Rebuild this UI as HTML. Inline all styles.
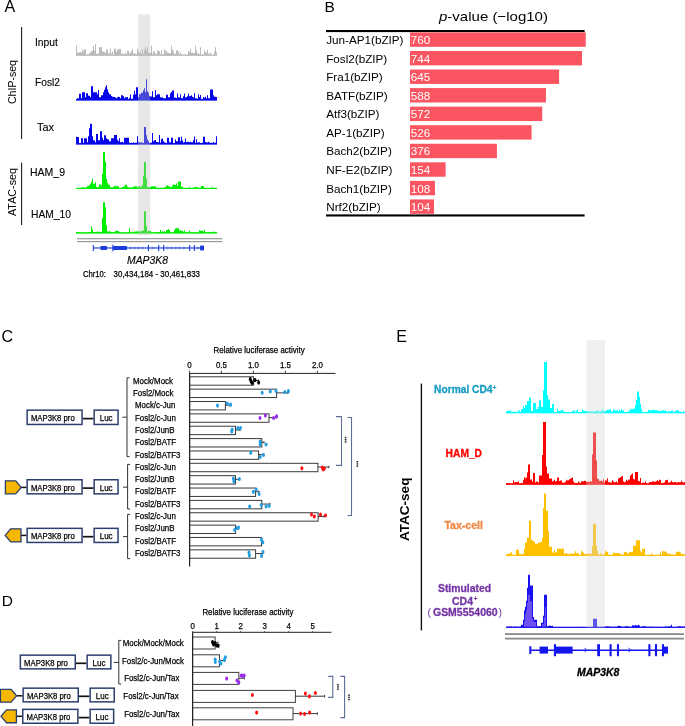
<!DOCTYPE html>
<html><head><meta charset="utf-8"><style>
html,body{margin:0;padding:0;background:#fff;}
body{width:685px;height:726px;overflow:hidden;}
svg{display:block;will-change:transform;font-family:"Liberation Sans",sans-serif;}
</style></head><body>
<svg width="685" height="726" viewBox="0 0 685 726">
<text x="4.5" y="11.9" font-size="16" fill="#000" font-weight="normal" font-style="normal" text-anchor="start" >A</text>
<line x1="21.6" y1="27" x2="21.6" y2="139" stroke="#222" stroke-width="1.1"/>
<line x1="21.6" y1="162.4" x2="21.6" y2="225" stroke="#222" stroke-width="1.1"/>
<text transform="translate(15.6,104) rotate(-90)" font-size="10.6" fill="#000" font-weight="normal" textLength="44" lengthAdjust="spacingAndGlyphs">ChIP-seq</text>
<text transform="translate(15.6,216) rotate(-90)" font-size="10.6" fill="#000" font-weight="normal" textLength="48" lengthAdjust="spacingAndGlyphs">ATAC-seq</text>
<text x="35" y="46.3" font-size="10.3" fill="#000" font-weight="normal" font-style="normal" text-anchor="start" textLength="23" lengthAdjust="spacingAndGlyphs" stroke="#000" stroke-width="0.12" >Input</text>
<text x="35" y="86" font-size="10.3" fill="#000" font-weight="normal" font-style="normal" text-anchor="start" textLength="25" lengthAdjust="spacingAndGlyphs" stroke="#000" stroke-width="0.12" >Fosl2</text>
<text x="37" y="131" font-size="10.3" fill="#000" font-weight="normal" font-style="normal" text-anchor="start" textLength="17" lengthAdjust="spacingAndGlyphs" stroke="#000" stroke-width="0.12" >Tax</text>
<text x="30" y="176.2" font-size="10.3" fill="#000" font-weight="normal" font-style="normal" text-anchor="start" textLength="35" lengthAdjust="spacingAndGlyphs" stroke="#000" stroke-width="0.12" >HAM_9</text>
<text x="31" y="218.2" font-size="10.3" fill="#000" font-weight="normal" font-style="normal" text-anchor="start" textLength="40" lengthAdjust="spacingAndGlyphs" stroke="#000" stroke-width="0.12" >HAM_10</text>
<path d="M76 55.6L76 45.6L77 45.6L77 52.84L78 52.84L78 52.61L79 52.61L79 52.23L80 52.23L80 51.83L81 51.83L81 52.7L82 52.7L82 49.25L83 49.25L83 51.2L84 51.2L84 49.3L85 49.3L85 49.3L86 49.3L86 54.7L87 54.7L87 54.69L88 54.69L88 54.74L89 54.74L89 52.93L90 52.93L90 52.77L91 52.77L91 50.66L92 50.66L92 50.96L93 50.96L93 46L94 46L94 50.6L95 50.6L95 44L96 44L96 54.1L97 54.1L97 54.1L98 54.1L98 53.34L99 53.34L99 47.2L100 47.2L100 47.2L101 47.2L101 47.2L102 47.2L102 51.6L103 51.6L103 51.6L104 51.6L104 51.92L105 51.92L105 52.72L106 52.72L106 49.3L107 49.3L107 49.97L108 49.97L108 53.6L109 53.6L109 53.08L110 53.08L110 48.8L111 48.8L111 53.77L112 53.77L112 51.63L113 51.63L113 54.38L114 54.38L114 48.73L115 48.73L115 48.6L116 48.6L116 51.68L117 51.68L117 50.21L118 50.21L118 49.1L119 49.1L119 49.1L120 49.1L120 49.1L121 49.1L121 53.6L122 53.6L122 53.83L123 53.83L123 53.97L124 53.97L124 53.74L125 53.74L125 52.71L126 52.71L126 54.4L127 54.4L127 50.67L128 50.67L128 51.05L129 51.05L129 53.46L130 53.46L130 52.44L131 52.44L131 51.29L132 51.29L132 49.3L133 49.3L133 53.74L134 53.74L134 52.98L135 52.98L135 54.02L136 54.02L136 54.23L137 54.23L137 48.8L138 48.8L138 51.6L139 51.6L139 52.88L140 52.88L140 51.6L141 51.6L141 53.91L142 53.91L142 49.44L143 49.44L143 53.59L144 53.59L144 49.95L145 49.95L145 47.2L146 47.2L146 50.6L147 50.6L147 47.2L148 47.2L148 52.8L149 52.8L149 52.85L150 52.85L150 52.73L151 52.73L151 45.8L152 45.8L152 54.17L153 54.17L153 51.6L154 51.6L154 51.6L155 51.6L155 53.58L156 53.58L156 54.08L157 54.08L157 50.12L158 50.12L158 51.3L159 51.3L159 51.3L160 51.3L160 54.09L161 54.09L161 49.91L162 49.91L162 54.42L163 54.42L163 54.17L164 54.17L164 49.1L165 49.1L165 51.6L166 51.6L166 50.6L167 50.6L167 52.63L168 52.63L168 53.03L169 53.03L169 52.96L170 52.96L170 53.28L171 53.28L171 45.8L172 45.8L172 49.78L173 49.78L173 51.6L174 51.6L174 53.88L175 53.88L175 53.85L176 53.85L176 50.4L177 50.4L177 50.37L178 50.37L178 51.52L179 51.52L179 54.11L180 54.11L180 52.26L181 52.26L181 54.44L182 54.44L182 54.67L183 54.67L183 54.74L184 54.74L184 54.8L185 54.8L185 54.62L186 54.62L186 54.96L187 54.96L187 54.66L188 54.66L188 50.98L189 50.98L189 52.12L190 52.12L190 48.65L191 48.65L191 52.79L192 52.79L192 52.86L193 52.86L193 53.13L194 53.13L194 52.97L195 52.97L195 45.8L196 45.8L196 50.6L197 50.6L197 53.06L198 53.06L198 53.81L199 53.81L199 54.09L200 54.09L200 47.25L201 47.25L201 54.5L202 54.5L202 54.24L203 54.24L203 54.56L204 54.56L204 50.13L205 50.13L205 52.07L206 52.07L206 52.46L207 52.46L207 49.59L208 49.59L208 53.6L209 53.6L209 54.11L210 54.11L210 52.6L211 52.6L211 54.7L212 54.7L212 54.91L213 54.91L213 54.81L214 54.81L214 51.52L215 51.52L215 47.2L216 47.2L216 52.6L217 52.6L217 55.6Z" fill="#bcbcbc"/>
<rect x="76" y="54.6" width="141" height="1.2" fill="#bcbcbc"/>
<path d="M76 100.3L76 99.3L77 99.3L77 98.3L78 98.3L78 98.3L79 98.3L79 93.8L80 93.8L80 93.8L81 93.8L81 98.3L82 98.3L82 92.2L83 92.2L83 92.2L84 92.2L84 92.2L85 92.2L85 97.3L86 97.3L86 93.3L87 93.3L87 93.3L88 93.3L88 95.8L89 95.8L89 95.8L90 95.8L90 97.3L91 97.3L91 86.3L92 86.3L92 86.3L93 86.3L93 92.2L94 92.2L94 92.2L95 92.2L95 92.2L96 92.2L96 92.2L97 92.2L97 94.3L98 94.3L98 90L99 90L99 97.3L100 97.3L100 97.3L101 97.3L101 95.3L102 95.3L102 95.3L103 95.3L103 92.3L104 92.3L104 89.8L105 89.8L105 87.3L106 87.3L106 85.3L107 85.3L107 89.3L108 89.3L108 92.3L109 92.3L109 94.3L110 94.3L110 94.3L111 94.3L111 96.1L112 96.1L112 96.68L113 96.68L113 96.63L114 96.63L114 97.09L115 97.09L115 97.39L116 97.39L116 98.35L117 98.35L117 97.13L118 97.13L118 96.79L119 96.79L119 96.98L120 96.98L120 98.3L121 98.3L121 95.31L122 95.31L122 95.27L123 95.27L123 96.21L124 96.21L124 98.3L125 98.3L125 97.3L126 97.3L126 97.3L127 97.3L127 97.12L128 97.12L128 99.3L129 99.3L129 97.94L130 97.94L130 94.54L131 94.54L131 98.8L132 98.8L132 98.8L133 98.8L133 94.8L134 94.8L134 90.8L135 90.8L135 94.3L136 94.3L136 87.3L137 87.3L137 87.3L138 87.3L138 97.3L139 97.3L139 94.3L140 94.3L140 94.3L141 94.3L141 92.8L142 92.8L142 92.8L143 92.8L143 90.3L144 90.3L144 88.3L145 88.3L145 92.3L146 92.3L146 79.3L147 79.3L147 91.3L148 91.3L148 92.8L149 92.8L149 96.3L150 96.3L150 96.3L151 96.3L151 96.42L152 96.42L152 91.28L153 91.28L153 97.3L154 97.3L154 97.3L155 97.3L155 90L156 90L156 95.3L157 95.3L157 94.3L158 94.3L158 94.3L159 94.3L159 94.3L160 94.3L160 97.17L161 97.17L161 97.43L162 97.43L162 97.29L163 97.29L163 98.16L164 98.16L164 98.3L165 98.3L165 98.3L166 98.3L166 94.8L167 94.8L167 94.8L168 94.8L168 97.3L169 97.3L169 97.3L170 97.3L170 93.3L171 93.3L171 91.95L172 91.95L172 90.6L173 90.6L173 90.6L174 90.6L174 97.85L175 97.85L175 97.6L176 97.6L176 98.06L177 98.06L177 93.6L178 93.6L178 97.29L179 97.29L179 97.45L180 97.45L180 94.3L181 94.3L181 98.3L182 98.3L182 98.3L183 98.3L183 96.28L184 96.28L184 93.41L185 93.41L185 97.62L186 97.62L186 97.12L187 97.12L187 96.26L188 96.26L188 93.69L189 93.69L189 96.29L190 96.29L190 95.9L191 95.9L191 95.21L192 95.21L192 96.64L193 96.64L193 97.48L194 97.48L194 93.3L195 93.3L195 98.32L196 98.32L196 98.37L197 98.37L197 98.7L198 98.7L198 94.3L199 94.3L199 97.3L200 97.3L200 94.98L201 94.98L201 98.86L202 98.86L202 98.96L203 98.96L203 97.03L204 97.03L204 97.8L205 97.8L205 96.72L206 96.72L206 98.36L207 98.36L207 95.3L208 95.3L208 98.3L209 98.3L209 98.3L210 98.3L210 89.5L211 89.5L211 89.5L212 89.5L212 89.5L213 89.5L213 95.3L214 95.3L214 96.65L215 96.65L215 96.85L216 96.85L216 97.05L217 97.05L217 100.3Z" fill="#0505e8"/>
<rect x="76" y="99.3" width="141" height="1.2" fill="#0505e8"/>
<path d="M76 144.3L76 136.65L77 136.65L77 137.1L78 137.1L78 137.1L79 137.1L79 143.3L80 143.3L80 143.3L81 143.3L81 138.3L82 138.3L82 138.3L83 138.3L83 142.8L84 142.8L84 138.3L85 138.3L85 138.3L86 138.3L86 138.3L87 138.3L87 142.3L88 142.3L88 136.3L89 136.3L89 128.3L90 128.3L90 123.8L91 123.8L91 123.8L92 123.8L92 136.3L93 136.3L93 140.3L94 140.3L94 140.3L95 140.3L95 142.3L96 142.3L96 134L97 134L97 134L98 134L98 140.3L99 140.3L99 140.3L100 140.3L100 131.3L101 131.3L101 131.3L102 131.3L102 137.87L103 137.87L103 140.3L104 140.3L104 135.3L105 135.3L105 135.3L106 135.3L106 138.3L107 138.3L107 139.3L108 139.3L108 139.3L109 139.3L109 141.3L110 141.3L110 141.3L111 141.3L111 138.3L112 138.3L112 138.3L113 138.3L113 138.3L114 138.3L114 135.1L115 135.1L115 135.1L116 135.1L116 135.1L117 135.1L117 139.71L118 139.71L118 141.3L119 141.3L119 138.3L120 138.3L120 142.36L121 142.36L121 141.93L122 141.93L122 141.82L123 141.82L123 142.8L124 142.8L124 137.8L125 137.8L125 137.8L126 137.8L126 137.8L127 137.8L127 137.8L128 137.8L128 137.8L129 137.8L129 142.87L130 142.87L130 142.91L131 142.91L131 142.77L132 142.77L132 143.06L133 143.06L133 142.34L134 142.34L134 143.09L135 143.09L135 142.8L136 142.8L136 142.8L137 142.8L137 136.3L138 136.3L138 142.3L139 142.3L139 141.9L140 141.9L140 142.65L141 142.65L141 142.55L142 142.55L142 142.44L143 142.44L143 142.88L144 142.88L144 127L145 127L145 127L146 127L146 135.34L147 135.34L147 139.49L148 139.49L148 141.3L149 141.3L149 143.07L150 143.07L150 142.84L151 142.84L151 142.76L152 142.76L152 133L153 133L153 141.3L154 141.3L154 140.35L155 140.35L155 140.12L156 140.12L156 142.01L157 142.01L157 142.3L158 142.3L158 142.3L159 142.3L159 135.1L160 135.1L160 142.66L161 142.66L161 138.98L162 138.98L162 138.38L163 138.38L163 141.22L164 141.22L164 142.31L165 142.31L165 142.65L166 142.65L166 143.07L167 143.07L167 137.8L168 137.8L168 137.8L169 137.8L169 142.3L170 142.3L170 142.3L171 142.3L171 137.8L172 137.8L172 137.8L173 137.8L173 143.2L174 143.2L174 142.95L175 142.95L175 139.48L176 139.48L176 141.3L177 141.3L177 141.3L178 141.3L178 137.3L179 137.3L179 137.3L180 137.3L180 141.18L181 141.18L181 136.75L182 136.75L182 140.62L183 140.62L183 142.49L184 142.49L184 141.92L185 141.92L185 138.42L186 138.42L186 142.03L187 142.03L187 142.09L188 142.09L188 141.76L189 141.76L189 142.28L190 142.28L190 141.77L191 141.77L191 142.3L192 142.3L192 142.3L193 142.3L193 140.3L194 140.3L194 136.62L195 136.62L195 142.76L196 142.76L196 139.2L197 139.2L197 142.58L198 142.58L198 142.36L199 142.36L199 142.3L200 142.3L200 143.08L201 143.08L201 143.06L202 143.06L202 142.67L203 142.67L203 136.8L204 136.8L204 136.8L205 136.8L205 141.91L206 141.91L206 142.26L207 142.26L207 142.55L208 142.55L208 141.72L209 141.72L209 142.55L210 142.55L210 142.82L211 142.82L211 142.86L212 142.86L212 142.89L213 142.89L213 142.02L214 142.02L214 142.8L215 142.8L215 142.8L216 142.8L216 136.36L217 136.36L217 144.3Z" fill="#0505e8"/>
<rect x="76" y="143.3" width="141" height="1.2" fill="#0505e8"/>
<path d="M76 188.8L76 188.2L77 188.2L77 188.05L78 188.05L78 188.18L79 188.18L79 188.06L80 188.06L80 188.06L81 188.06L81 187.56L82 187.56L82 187.26L83 187.26L83 187.41L84 187.41L84 187.46L85 187.46L85 187.73L86 187.73L86 187.54L87 187.54L87 186.02L88 186.02L88 185.77L89 185.77L89 185.21L90 185.21L90 183.8L91 183.8L91 181.8L92 181.8L92 178.8L93 178.8L93 183.8L94 183.8L94 183.8L95 183.8L95 182.3L96 182.3L96 186.8L97 186.8L97 187.36L98 187.36L98 186.92L99 186.92L99 184.18L100 184.18L100 184.8L101 184.8L101 185.5L102 185.5L102 173.8L103 173.8L103 152.1L104 152.1L104 152.1L105 152.1L105 162L106 162L106 178.8L107 178.8L107 182.8L108 182.8L108 184.8L109 184.8L109 184.8L110 184.8L110 187.29L111 187.29L111 187.53L112 187.53L112 187.24L113 187.24L113 187.29L114 187.29L114 185.83L115 185.83L115 185.72L116 185.72L116 186.63L117 186.63L117 185.87L118 185.87L118 186.38L119 186.38L119 188.05L120 188.05L120 187.97L121 187.97L121 187.89L122 187.89L122 187.05L123 187.05L123 186.66L124 186.66L124 186.36L125 186.36L125 184.8L126 184.8L126 184.8L127 184.8L127 186.79L128 186.79L128 187.24L129 187.24L129 187.62L130 187.62L130 187.39L131 187.39L131 187.41L132 187.41L132 187.75L133 187.75L133 186.18L134 186.18L134 186.84L135 186.84L135 186.18L136 186.18L136 186.24L137 186.24L137 187.8L138 187.8L138 186.26L139 186.26L139 186.3L140 186.3L140 186.7L141 186.7L141 186.66L142 186.66L142 184.8L143 184.8L143 175.8L144 175.8L144 162L145 162L145 162L146 162L146 178.8L147 178.8L147 187.16L148 187.16L148 186.74L149 186.74L149 187.38L150 187.38L150 186.93L151 186.93L151 186.21L152 186.21L152 186.34L153 186.34L153 186.43L154 186.43L154 186.2L155 186.2L155 186.59L156 186.59L156 187.81L157 187.81L157 187.94L158 187.94L158 187.78L159 187.78L159 188.08L160 188.08L160 187.95L161 187.95L161 187.9L162 187.9L162 187.82L163 187.82L163 187.95L164 187.95L164 187.3L165 187.3L165 187.3L166 187.3L166 185.7L167 185.7L167 185.37L168 185.37L168 186.01L169 186.01L169 186.26L170 186.26L170 187.3L171 187.3L171 187.3L172 187.3L172 185.6L173 185.6L173 184.29L174 184.29L174 184.9L175 184.9L175 185.04L176 185.04L176 183.3L177 183.3L177 185.8L178 185.8L178 181.5L179 181.5L179 181.5L180 181.5L180 181.5L181 181.5L181 186.8L182 186.8L182 186.8L183 186.8L183 188.27L184 188.27L184 188.35L185 188.35L185 188.33L186 188.33L186 188.33L187 188.33L187 188.33L188 188.33L188 188.2L189 188.2L189 186.8L190 186.8L190 188.17L191 188.17L191 188.21L192 188.21L192 188L193 188L193 187.19L194 187.19L194 187.52L195 187.52L195 187.11L196 187.11L196 187.11L197 187.11L197 187.13L198 187.13L198 187.83L199 187.83L199 187.95L200 187.95L200 188.02L201 188.02L201 185.92L202 185.92L202 186.04L203 186.04L203 185.96L204 185.96L204 188.04L205 188.04L205 187.97L206 187.97L206 187.86L207 187.86L207 187.97L208 187.97L208 187.89L209 187.89L209 187.93L210 187.93L210 187.84L211 187.84L211 188.2L212 188.2L212 186.8L213 186.8L213 187.98L214 187.98L214 187.93L215 187.93L215 187.81L216 187.81L216 187.99L217 187.99L217 188.8Z" fill="#00ee00"/>
<rect x="76" y="187.8" width="141" height="1.2" fill="#00ee00"/>
<path d="M76 233.3L76 232.09L77 232.09L77 232.01L78 232.01L78 232.09L79 232.09L79 232.13L80 232.13L80 232.41L81 232.41L81 232.34L82 232.34L82 232.47L83 232.47L83 232.52L84 232.52L84 232.41L85 232.41L85 232.42L86 232.42L86 232.56L87 232.56L87 231.97L88 231.97L88 232L89 232L89 232.17L90 232.17L90 231.88L91 231.88L91 226.1L92 226.1L92 229.3L93 229.3L93 232.33L94 232.33L94 232.48L95 232.48L95 232.3L96 232.3L96 232.25L97 232.25L97 231.62L98 231.62L98 231.78L99 231.78L99 231.87L100 231.87L100 231.96L101 231.96L101 231.87L102 231.87L102 218.3L103 218.3L103 202.3L104 202.3L104 202.3L105 202.3L105 207.3L106 207.3L106 225.3L107 225.3L107 231.2L108 231.2L108 231.86L109 231.86L109 231.26L110 231.26L110 231.41L111 231.41L111 232.33L112 232.33L112 232.57L113 232.57L113 232.37L114 232.37L114 232.53L115 232.53L115 230.96L116 230.96L116 230.86L117 230.86L117 230.92L118 230.92L118 231.08L119 231.08L119 232.29L120 232.29L120 232.52L121 232.52L121 232.55L122 232.55L122 232.3L123 232.3L123 232.58L124 232.58L124 232.45L125 232.45L125 232.45L126 232.45L126 232.29L127 232.29L127 232.47L128 232.47L128 232.4L129 232.4L129 228.3L130 228.3L130 232.42L131 232.42L131 232.43L132 232.43L132 232.43L133 232.43L133 232.44L134 232.44L134 231.48L135 231.48L135 231.6L136 231.6L136 231.6L137 231.6L137 231.25L138 231.25L138 231.22L139 231.22L139 231.73L140 231.73L140 231.24L141 231.24L141 231.17L142 231.17L142 230.85L143 230.85L143 230.26L144 230.26L144 211.3L145 211.3L145 211.3L146 211.3L146 226.3L147 226.3L147 231.4L148 231.4L148 230.96L149 230.96L149 230.68L150 230.68L150 231.01L151 231.01L151 232.44L152 232.44L152 232.59L153 232.59L153 232.44L154 232.44L154 232.44L155 232.44L155 232.32L156 232.32L156 232.46L157 232.46L157 231.83L158 231.83L158 232.04L159 232.04L159 231.92L160 231.92L160 229.8L161 229.8L161 232.3L162 232.3L162 231.37L163 231.37L163 231.78L164 231.78L164 231.23L165 231.23L165 232.3L166 232.3L166 230.04L167 230.04L167 230L168 230L168 229.35L169 229.35L169 229.88L170 229.88L170 232.42L171 232.42L171 232.53L172 232.53L172 232.52L173 232.52L173 232.33L174 232.33L174 230.3L175 230.3L175 228.48L176 228.48L176 228.18L177 228.18L177 228.11L178 228.11L178 228.14L179 228.14L179 230.86L180 230.86L180 230.29L181 230.29L181 230.73L182 230.73L182 231.02L183 231.02L183 231.8L184 231.8L184 230.3L185 230.3L185 232.3L186 232.3L186 232.28L187 232.28L187 232.56L188 232.56L188 232.29L189 232.29L189 230.8L190 230.8L190 232.36L191 232.36L191 232.51L192 232.51L192 232.4L193 232.4L193 232.28L194 232.28L194 232.55L195 232.55L195 232.37L196 232.37L196 232.52L197 232.52L197 232.55L198 232.55L198 232.27L199 232.27L199 230.36L200 230.36L200 230.7L201 230.7L201 230.56L202 230.56L202 230.95L203 230.95L203 231.8L204 231.8L204 229.8L205 229.8L205 232.45L206 232.45L206 232.38L207 232.38L207 232.32L208 232.32L208 232.35L209 232.35L209 232.44L210 232.44L210 232.38L211 232.38L211 232.04L212 232.04L212 231.82L213 231.82L213 231.79L214 231.79L214 231.84L215 231.84L215 232.3L216 232.3L216 232.3L217 232.3L217 233.3Z" fill="#00ee00"/>
<rect x="76" y="232.3" width="141" height="1.2" fill="#00ee00"/>
<rect x="138" y="14.4" width="12.2" height="220.8" fill="rgba(188,188,188,0.36)"/>
<rect x="77" y="238.1" width="145.4" height="1.2" fill="#9a9a9a"/>
<rect x="77" y="241" width="145.4" height="1.2" fill="#9a9a9a"/>
<rect x="93.3" y="247.4" width="110.7" height="1.15" fill="#1c3cdc"/>
<rect x="92.8" y="245" width="1.1" height="6" fill="#1c3cdc"/>
<rect x="100.6" y="246" width="6.3" height="4" fill="#1c3cdc"/>
<rect x="112.4" y="244.6" width="1.1" height="6.8" fill="#1c3cdc"/>
<rect x="112.9" y="246" width="14" height="4" fill="#1c3cdc"/>
<rect x="147.9" y="245" width="1.1" height="6" fill="#1c3cdc"/>
<rect x="158.1" y="245" width="1.1" height="6" fill="#1c3cdc"/>
<rect x="163.2" y="245" width="1.1" height="6" fill="#1c3cdc"/>
<rect x="189.1" y="245" width="1.1" height="6" fill="#1c3cdc"/>
<rect x="193.8" y="245" width="1.1" height="6" fill="#1c3cdc"/>
<path d="M130.2 246.6L131.4 248L130.2 249.4" fill="none" stroke="#1c3cdc" stroke-width="0.6"/>
<path d="M134.2 246.6L135.4 248L134.2 249.4" fill="none" stroke="#1c3cdc" stroke-width="0.6"/>
<path d="M138.2 246.6L139.4 248L138.2 249.4" fill="none" stroke="#1c3cdc" stroke-width="0.6"/>
<path d="M142.2 246.6L143.4 248L142.2 249.4" fill="none" stroke="#1c3cdc" stroke-width="0.6"/>
<path d="M152.2 246.6L153.4 248L152.2 249.4" fill="none" stroke="#1c3cdc" stroke-width="0.6"/>
<path d="M167.2 246.6L168.4 248L167.2 249.4" fill="none" stroke="#1c3cdc" stroke-width="0.6"/>
<path d="M171.2 246.6L172.4 248L171.2 249.4" fill="none" stroke="#1c3cdc" stroke-width="0.6"/>
<path d="M175.2 246.6L176.4 248L175.2 249.4" fill="none" stroke="#1c3cdc" stroke-width="0.6"/>
<path d="M179.2 246.6L180.4 248L179.2 249.4" fill="none" stroke="#1c3cdc" stroke-width="0.6"/>
<path d="M183.2 246.6L184.4 248L183.2 249.4" fill="none" stroke="#1c3cdc" stroke-width="0.6"/>
<path d="M197.2 246.6L198.4 248L197.2 249.4" fill="none" stroke="#1c3cdc" stroke-width="0.6"/>
<rect x="200.1" y="245.6" width="3.9" height="4.8" fill="#1c3cdc"/>
<text x="127" y="263.6" font-size="10.4" fill="#000" font-weight="normal" font-style="italic" text-anchor="start" textLength="41" lengthAdjust="spacingAndGlyphs" stroke="#000" stroke-width="0.12" >MAP3K8</text>
<text x="83" y="277.2" font-size="8.74" fill="#000" font-weight="normal" font-style="normal" text-anchor="start" textLength="23" lengthAdjust="spacingAndGlyphs" stroke="#000" stroke-width="0.25" >Chr10:</text>
<text x="113.6" y="277.2" font-size="8.85" fill="#000" font-weight="normal" font-style="normal" text-anchor="start" textLength="86.4" lengthAdjust="spacingAndGlyphs" stroke="#000" stroke-width="0.25" >30,434,184 - 30,461,833</text>
<text x="324.6" y="11.8" font-size="15.5" fill="#000" font-weight="normal" font-style="normal" text-anchor="start" >B</text>
<text x="439" y="21" font-size="13.6" fill="#000" textLength="109" lengthAdjust="spacingAndGlyphs"><tspan font-style="italic">p</tspan>-value (−log10)</text>
<rect x="326" y="30" width="258.6" height="2.1" fill="#000"/>
<rect x="326" y="214.4" width="258.6" height="2.1" fill="#000"/>
<rect x="410" y="32.4" width="175.71" height="14.4" fill="#fa5560"/>
<text x="326.2" y="44.1" font-size="11.7" fill="#000" font-weight="normal" font-style="normal" text-anchor="start" >Jun-AP1(bZIP)</text>
<text x="410.8" y="44.1" font-size="11.7" fill="#fff" font-weight="normal" font-style="normal" text-anchor="start" >760</text>
<rect x="410" y="50.96" width="172.01" height="14.4" fill="#fa5560"/>
<text x="326.2" y="62.66" font-size="11.7" fill="#000" font-weight="normal" font-style="normal" text-anchor="start" >Fosl2(bZIP)</text>
<text x="410.8" y="62.66" font-size="11.7" fill="#fff" font-weight="normal" font-style="normal" text-anchor="start" >744</text>
<rect x="410" y="69.52" width="149.12" height="14.4" fill="#fa5560"/>
<text x="326.2" y="81.22" font-size="11.7" fill="#000" font-weight="normal" font-style="normal" text-anchor="start" >Fra1(bZIP)</text>
<text x="410.8" y="81.22" font-size="11.7" fill="#fff" font-weight="normal" font-style="normal" text-anchor="start" >645</text>
<rect x="410" y="88.08" width="135.95" height="14.4" fill="#fa5560"/>
<text x="326.2" y="99.78" font-size="11.7" fill="#000" font-weight="normal" font-style="normal" text-anchor="start" >BATF(bZIP)</text>
<text x="410.8" y="99.78" font-size="11.7" fill="#fff" font-weight="normal" font-style="normal" text-anchor="start" >588</text>
<rect x="410" y="106.64" width="132.25" height="14.4" fill="#fa5560"/>
<text x="326.2" y="118.34" font-size="11.7" fill="#000" font-weight="normal" font-style="normal" text-anchor="start" >Atf3(bZIP)</text>
<text x="410.8" y="118.34" font-size="11.7" fill="#fff" font-weight="normal" font-style="normal" text-anchor="start" >572</text>
<rect x="410" y="125.2" width="121.61" height="14.4" fill="#fa5560"/>
<text x="326.2" y="136.9" font-size="11.7" fill="#000" font-weight="normal" font-style="normal" text-anchor="start" >AP-1(bZIP)</text>
<text x="410.8" y="136.9" font-size="11.7" fill="#fff" font-weight="normal" font-style="normal" text-anchor="start" >526</text>
<rect x="410" y="143.76" width="86.93" height="14.4" fill="#fa5560"/>
<text x="326.2" y="155.46" font-size="11.7" fill="#000" font-weight="normal" font-style="normal" text-anchor="start" >Bach2(bZIP)</text>
<text x="410.8" y="155.46" font-size="11.7" fill="#fff" font-weight="normal" font-style="normal" text-anchor="start" >376</text>
<rect x="410" y="162.32" width="35.6" height="14.4" fill="#fa5560"/>
<text x="326.2" y="174.02" font-size="11.7" fill="#000" font-weight="normal" font-style="normal" text-anchor="start" >NF-E2(bZIP)</text>
<text x="410.8" y="174.02" font-size="11.7" fill="#fff" font-weight="normal" font-style="normal" text-anchor="start" >154</text>
<rect x="410" y="180.88" width="24.97" height="14.4" fill="#fa5560"/>
<text x="326.2" y="192.58" font-size="11.7" fill="#000" font-weight="normal" font-style="normal" text-anchor="start" >Bach1(bZIP)</text>
<text x="410.8" y="192.58" font-size="11.7" fill="#fff" font-weight="normal" font-style="normal" text-anchor="start" >108</text>
<rect x="410" y="199.44" width="24.04" height="14.4" fill="#fa5560"/>
<text x="326.2" y="211.14" font-size="11.7" fill="#000" font-weight="normal" font-style="normal" text-anchor="start" >Nrf2(bZIP)</text>
<text x="410.8" y="211.14" font-size="11.7" fill="#fff" font-weight="normal" font-style="normal" text-anchor="start" >104</text>
<text x="1.5" y="341.9" font-size="16" fill="#000" font-weight="normal" font-style="normal" text-anchor="start" >C</text>
<line x1="82.8" y1="418.6" x2="93.4" y2="418.6" stroke="#111" stroke-width="1.7"/>
<rect x="27.15" y="410.15" width="54.9" height="14.3" fill="#fff" stroke="#2b3f6e" stroke-width="1.5"/>
<rect x="94.15" y="410.15" width="23.9" height="14.3" fill="#fff" stroke="#2b3f6e" stroke-width="1.5"/>
<text x="30.9" y="421.3" font-size="8.79" fill="#000" font-weight="normal" font-style="normal" text-anchor="start" textLength="43.8" lengthAdjust="spacingAndGlyphs" stroke="#000" stroke-width="0.25" >MAP3K8 pro</text>
<text x="99.7" y="421.3" font-size="8.96" fill="#000" font-weight="normal" font-style="normal" text-anchor="start" textLength="12.9" lengthAdjust="spacingAndGlyphs" stroke="#000" stroke-width="0.25" >Luc</text>
<line x1="82.8" y1="488.1" x2="93.4" y2="488.1" stroke="#111" stroke-width="1.7"/>
<rect x="27.15" y="479.75" width="54.9" height="14.1" fill="#fff" stroke="#2b3f6e" stroke-width="1.5"/>
<rect x="94.15" y="479.75" width="23.9" height="14.1" fill="#fff" stroke="#2b3f6e" stroke-width="1.5"/>
<text x="30.9" y="490.8" font-size="8.79" fill="#000" font-weight="normal" font-style="normal" text-anchor="start" textLength="43.8" lengthAdjust="spacingAndGlyphs" stroke="#000" stroke-width="0.25" >MAP3K8 pro</text>
<text x="99.7" y="490.8" font-size="8.96" fill="#000" font-weight="normal" font-style="normal" text-anchor="start" textLength="12.9" lengthAdjust="spacingAndGlyphs" stroke="#000" stroke-width="0.25" >Luc</text>
<line x1="21.2" y1="487.4" x2="26.4" y2="487.4" stroke="#111" stroke-width="1.5"/>
<polygon points="5.4,480.848 15.7,480.848 21.2,487.40000000000003 15.7,493.95200000000006 5.4,493.95200000000006" fill="#f5b700" stroke="#2b3f6e" stroke-width="1.3"/>
<line x1="82.8" y1="536.7" x2="93.4" y2="536.7" stroke="#111" stroke-width="1.7"/>
<rect x="27.15" y="528.35" width="54.9" height="14.1" fill="#fff" stroke="#2b3f6e" stroke-width="1.5"/>
<rect x="94.15" y="528.35" width="23.9" height="14.1" fill="#fff" stroke="#2b3f6e" stroke-width="1.5"/>
<text x="30.9" y="539.4" font-size="8.79" fill="#000" font-weight="normal" font-style="normal" text-anchor="start" textLength="43.8" lengthAdjust="spacingAndGlyphs" stroke="#000" stroke-width="0.25" >MAP3K8 pro</text>
<text x="99.7" y="539.4" font-size="8.96" fill="#000" font-weight="normal" font-style="normal" text-anchor="start" textLength="12.9" lengthAdjust="spacingAndGlyphs" stroke="#000" stroke-width="0.25" >Luc</text>
<line x1="21" y1="535.4" x2="26.4" y2="535.4" stroke="#111" stroke-width="1.5"/>
<polygon points="10.7,528.8480000000001 21,528.8480000000001 21,541.9520000000001 10.7,541.9520000000001 5.2,535.4000000000001" fill="#f5b700" stroke="#2b3f6e" stroke-width="1.3"/>
<path d="M129.5 377.8H127V456.6H129.5M127 417.2H122.4" fill="none" stroke="#333" stroke-width="1"/>
<path d="M130.1 464.4H127.6V509H130.1M127.6 487.2H123" fill="none" stroke="#333" stroke-width="1"/>
<path d="M130.1 514.4H127.6V558.6H130.1M127.6 536.6H123" fill="none" stroke="#333" stroke-width="1"/>
<text x="133" y="383.76" font-size="8.85" fill="#000" font-weight="normal" font-style="normal" text-anchor="start" textLength="39.94" lengthAdjust="spacingAndGlyphs" stroke="#000" stroke-width="0.25" >Mock/Mock</text>
<text x="133" y="396.06" font-size="8.85" fill="#000" font-weight="normal" font-style="normal" text-anchor="start" textLength="40.39" lengthAdjust="spacingAndGlyphs" stroke="#000" stroke-width="0.25" >Fosl2/Mock</text>
<text x="135" y="408.36" font-size="8.85" fill="#000" font-weight="normal" font-style="normal" text-anchor="start" textLength="40.39" lengthAdjust="spacingAndGlyphs" stroke="#000" stroke-width="0.25" >Mock/c-Jun</text>
<text x="135" y="420.66" font-size="8.85" fill="#000" font-weight="normal" font-style="normal" text-anchor="start" textLength="40.83" lengthAdjust="spacingAndGlyphs" stroke="#000" stroke-width="0.25" >Fosl2/c-Jun</text>
<text x="135" y="432.96" font-size="8.85" fill="#000" font-weight="normal" font-style="normal" text-anchor="start" textLength="39.52" lengthAdjust="spacingAndGlyphs" stroke="#000" stroke-width="0.25" >Fosl2/JunB</text>
<text x="135" y="445.26" font-size="8.85" fill="#000" font-weight="normal" font-style="normal" text-anchor="start" textLength="41.12" lengthAdjust="spacingAndGlyphs" stroke="#000" stroke-width="0.25" >Fosl2/BATF</text>
<text x="135" y="457.56" font-size="8.85" fill="#000" font-weight="normal" font-style="normal" text-anchor="start" textLength="45.51" lengthAdjust="spacingAndGlyphs" stroke="#000" stroke-width="0.25" >Fosl2/BATF3</text>
<text x="135" y="469.86" font-size="8.85" fill="#000" font-weight="normal" font-style="normal" text-anchor="start" textLength="40.83" lengthAdjust="spacingAndGlyphs" stroke="#000" stroke-width="0.25" >Fosl2/c-Jun</text>
<text x="135" y="482.16" font-size="8.85" fill="#000" font-weight="normal" font-style="normal" text-anchor="start" textLength="39.52" lengthAdjust="spacingAndGlyphs" stroke="#000" stroke-width="0.25" >Fosl2/JunB</text>
<text x="135" y="494.46" font-size="8.85" fill="#000" font-weight="normal" font-style="normal" text-anchor="start" textLength="41.12" lengthAdjust="spacingAndGlyphs" stroke="#000" stroke-width="0.25" >Fosl2/BATF</text>
<text x="135" y="506.76" font-size="8.85" fill="#000" font-weight="normal" font-style="normal" text-anchor="start" textLength="45.51" lengthAdjust="spacingAndGlyphs" stroke="#000" stroke-width="0.25" >Fosl2/BATF3</text>
<text x="135" y="519.06" font-size="8.85" fill="#000" font-weight="normal" font-style="normal" text-anchor="start" textLength="40.83" lengthAdjust="spacingAndGlyphs" stroke="#000" stroke-width="0.25" >Fosl2/c-Jun</text>
<text x="135" y="531.36" font-size="8.85" fill="#000" font-weight="normal" font-style="normal" text-anchor="start" textLength="39.52" lengthAdjust="spacingAndGlyphs" stroke="#000" stroke-width="0.25" >Fosl2/JunB</text>
<text x="135" y="543.66" font-size="8.85" fill="#000" font-weight="normal" font-style="normal" text-anchor="start" textLength="41.12" lengthAdjust="spacingAndGlyphs" stroke="#000" stroke-width="0.25" >Fosl2/BATF</text>
<text x="135" y="555.96" font-size="8.85" fill="#000" font-weight="normal" font-style="normal" text-anchor="start" textLength="45.51" lengthAdjust="spacingAndGlyphs" stroke="#000" stroke-width="0.25" >Fosl2/BATF3</text>
<rect x="189.6" y="376.79" width="64" height="8.4" fill="#fff" stroke="#3a3a3a" stroke-width="1"/>
<rect x="189.6" y="389.15" width="87" height="8.4" fill="#fff" stroke="#3a3a3a" stroke-width="1"/>
<rect x="189.6" y="401.51" width="35.8" height="8.4" fill="#fff" stroke="#3a3a3a" stroke-width="1"/>
<rect x="189.6" y="413.87" width="79.4" height="8.4" fill="#fff" stroke="#3a3a3a" stroke-width="1"/>
<rect x="189.6" y="426.23" width="45.9" height="8.4" fill="#fff" stroke="#3a3a3a" stroke-width="1"/>
<rect x="189.6" y="438.59" width="72.2" height="8.4" fill="#fff" stroke="#3a3a3a" stroke-width="1"/>
<rect x="189.6" y="450.95" width="69" height="8.4" fill="#fff" stroke="#3a3a3a" stroke-width="1"/>
<rect x="189.6" y="463.31" width="128.3" height="8.4" fill="#fff" stroke="#3a3a3a" stroke-width="1"/>
<rect x="189.6" y="475.67" width="45.9" height="8.4" fill="#fff" stroke="#3a3a3a" stroke-width="1"/>
<rect x="189.6" y="488.03" width="66" height="8.4" fill="#fff" stroke="#3a3a3a" stroke-width="1"/>
<rect x="189.6" y="500.39" width="72.2" height="8.4" fill="#fff" stroke="#3a3a3a" stroke-width="1"/>
<rect x="189.6" y="512.75" width="128.5" height="8.4" fill="#fff" stroke="#3a3a3a" stroke-width="1"/>
<rect x="189.6" y="525.11" width="46" height="8.4" fill="#fff" stroke="#3a3a3a" stroke-width="1"/>
<rect x="189.6" y="537.47" width="71.9" height="8.4" fill="#fff" stroke="#3a3a3a" stroke-width="1"/>
<rect x="189.6" y="549.83" width="66" height="8.4" fill="#fff" stroke="#3a3a3a" stroke-width="1"/>
<line x1="253.6" y1="380.49" x2="258.6" y2="380.49" stroke="#222" stroke-width="0.9"/>
<line x1="258.6" y1="379.29" x2="258.6" y2="381.69" stroke="#222" stroke-width="0.8"/>
<ellipse cx="250.3" cy="379.2" rx="1.5" ry="2.1" fill="#000"/>
<ellipse cx="251.2" cy="381.6" rx="1.5" ry="2.1" fill="#000"/>
<ellipse cx="252.2" cy="383" rx="1.5" ry="2.1" fill="#000"/>
<ellipse cx="255" cy="380.2" rx="1.5" ry="2.1" fill="#000"/>
<ellipse cx="258.6" cy="382.6" rx="1.5" ry="2.1" fill="#000"/>
<line x1="276.6" y1="392.85" x2="288" y2="392.85" stroke="#222" stroke-width="0.9"/>
<line x1="288" y1="391.65" x2="288" y2="394.05" stroke="#222" stroke-width="0.8"/>
<ellipse cx="262.2" cy="392.8" rx="1.5" ry="2.1" fill="#239ee2"/>
<ellipse cx="270.3" cy="391.4" rx="1.5" ry="2.1" fill="#239ee2"/>
<ellipse cx="276" cy="391" rx="1.5" ry="2.1" fill="#239ee2"/>
<ellipse cx="284.8" cy="392.2" rx="1.5" ry="2.1" fill="#239ee2"/>
<ellipse cx="288.4" cy="391.2" rx="1.5" ry="2.1" fill="#239ee2"/>
<line x1="225.4" y1="405.21" x2="230" y2="405.21" stroke="#222" stroke-width="0.9"/>
<line x1="230" y1="404.01" x2="230" y2="406.41" stroke="#222" stroke-width="0.8"/>
<ellipse cx="217.5" cy="405.6" rx="1.5" ry="2.1" fill="#239ee2"/>
<ellipse cx="227.3" cy="403.5" rx="1.5" ry="2.1" fill="#239ee2"/>
<ellipse cx="230.6" cy="404.7" rx="1.5" ry="2.1" fill="#239ee2"/>
<line x1="269" y1="417.57" x2="276" y2="417.57" stroke="#222" stroke-width="0.9"/>
<line x1="276" y1="416.37" x2="276" y2="418.77" stroke="#222" stroke-width="0.8"/>
<ellipse cx="260" cy="418" rx="1.5" ry="2.1" fill="#9c2cf0"/>
<ellipse cx="265.4" cy="415.6" rx="1.5" ry="2.1" fill="#9c2cf0"/>
<ellipse cx="273.6" cy="418" rx="1.5" ry="2.1" fill="#9c2cf0"/>
<ellipse cx="276.6" cy="416.4" rx="1.5" ry="2.1" fill="#9c2cf0"/>
<line x1="235.5" y1="429.93" x2="240" y2="429.93" stroke="#222" stroke-width="0.9"/>
<line x1="240" y1="428.73" x2="240" y2="431.13" stroke="#222" stroke-width="0.8"/>
<ellipse cx="231.7" cy="431.5" rx="1.5" ry="2.1" fill="#239ee2"/>
<ellipse cx="232.2" cy="429.5" rx="1.5" ry="2.1" fill="#239ee2"/>
<ellipse cx="237.8" cy="428.2" rx="1.5" ry="2.1" fill="#239ee2"/>
<ellipse cx="240.5" cy="428" rx="1.5" ry="2.1" fill="#239ee2"/>
<line x1="261.8" y1="442.29" x2="264" y2="442.29" stroke="#222" stroke-width="0.9"/>
<line x1="264" y1="441.09" x2="264" y2="443.49" stroke="#222" stroke-width="0.8"/>
<ellipse cx="260.2" cy="441.5" rx="1.5" ry="2.1" fill="#239ee2"/>
<ellipse cx="260.2" cy="444.5" rx="1.5" ry="2.1" fill="#239ee2"/>
<ellipse cx="266" cy="444.5" rx="1.5" ry="2.1" fill="#239ee2"/>
<line x1="258.6" y1="454.65" x2="263" y2="454.65" stroke="#222" stroke-width="0.9"/>
<line x1="263" y1="453.45" x2="263" y2="455.85" stroke="#222" stroke-width="0.8"/>
<ellipse cx="250.7" cy="452.8" rx="1.5" ry="2.1" fill="#239ee2"/>
<ellipse cx="260.2" cy="457" rx="1.5" ry="2.1" fill="#239ee2"/>
<ellipse cx="263.5" cy="455" rx="1.5" ry="2.1" fill="#239ee2"/>
<line x1="317.9" y1="467.01" x2="328.9" y2="467.01" stroke="#222" stroke-width="0.9"/>
<line x1="328.9" y1="465.81" x2="328.9" y2="468.21" stroke="#222" stroke-width="0.8"/>
<ellipse cx="301.9" cy="468.3" rx="1.5" ry="2.1" fill="#ff1010"/>
<ellipse cx="322.2" cy="467.5" rx="1.5" ry="2.1" fill="#ff1010"/>
<ellipse cx="323.2" cy="469.5" rx="1.5" ry="2.1" fill="#ff1010"/>
<ellipse cx="324.4" cy="468.6" rx="1.5" ry="2.1" fill="#ff1010"/>
<line x1="235.5" y1="479.37" x2="239" y2="479.37" stroke="#222" stroke-width="0.9"/>
<line x1="239" y1="478.17" x2="239" y2="480.57" stroke="#222" stroke-width="0.8"/>
<ellipse cx="233.4" cy="478.5" rx="1.5" ry="2.1" fill="#239ee2"/>
<ellipse cx="233.9" cy="481.5" rx="1.5" ry="2.1" fill="#239ee2"/>
<ellipse cx="239.4" cy="479" rx="1.5" ry="2.1" fill="#239ee2"/>
<line x1="255.6" y1="491.73" x2="259" y2="491.73" stroke="#222" stroke-width="0.9"/>
<line x1="259" y1="490.53" x2="259" y2="492.93" stroke="#222" stroke-width="0.8"/>
<ellipse cx="253.4" cy="491.8" rx="1.5" ry="2.1" fill="#239ee2"/>
<ellipse cx="256.2" cy="489.5" rx="1.5" ry="2.1" fill="#239ee2"/>
<ellipse cx="259.1" cy="494" rx="1.5" ry="2.1" fill="#239ee2"/>
<line x1="261.8" y1="504.09" x2="270" y2="504.09" stroke="#222" stroke-width="0.9"/>
<line x1="270" y1="502.89" x2="270" y2="505.29" stroke="#222" stroke-width="0.8"/>
<ellipse cx="249.7" cy="506.5" rx="1.5" ry="2.1" fill="#239ee2"/>
<ellipse cx="261.2" cy="505" rx="1.5" ry="2.1" fill="#239ee2"/>
<ellipse cx="266.1" cy="506.5" rx="1.5" ry="2.1" fill="#239ee2"/>
<ellipse cx="269.1" cy="506" rx="1.5" ry="2.1" fill="#239ee2"/>
<line x1="318.1" y1="516.45" x2="324" y2="516.45" stroke="#222" stroke-width="0.9"/>
<line x1="324" y1="515.25" x2="324" y2="517.65" stroke="#222" stroke-width="0.8"/>
<ellipse cx="311.5" cy="514.6" rx="1.5" ry="2.1" fill="#ff1010"/>
<ellipse cx="314.4" cy="516.5" rx="1.5" ry="2.1" fill="#ff1010"/>
<ellipse cx="320.5" cy="514.6" rx="1.5" ry="2.1" fill="#ff1010"/>
<ellipse cx="325.5" cy="515.5" rx="1.5" ry="2.1" fill="#ff1010"/>
<line x1="235.6" y1="528.81" x2="238" y2="528.81" stroke="#222" stroke-width="0.9"/>
<line x1="238" y1="527.61" x2="238" y2="530.01" stroke="#222" stroke-width="0.8"/>
<ellipse cx="234.6" cy="530" rx="1.5" ry="2.1" fill="#239ee2"/>
<ellipse cx="237.2" cy="528" rx="1.5" ry="2.1" fill="#239ee2"/>
<ellipse cx="238.5" cy="527.5" rx="1.5" ry="2.1" fill="#239ee2"/>
<line x1="261.5" y1="541.17" x2="262" y2="541.17" stroke="#222" stroke-width="0.9"/>
<line x1="262" y1="539.97" x2="262" y2="542.37" stroke="#222" stroke-width="0.8"/>
<ellipse cx="261.5" cy="539.6" rx="1.5" ry="2.1" fill="#239ee2"/>
<ellipse cx="262.8" cy="542.3" rx="1.5" ry="2.1" fill="#239ee2"/>
<line x1="255.6" y1="553.53" x2="262.5" y2="553.53" stroke="#222" stroke-width="0.9"/>
<line x1="262.5" y1="552.33" x2="262.5" y2="554.73" stroke="#222" stroke-width="0.8"/>
<ellipse cx="249" cy="552.5" rx="1.5" ry="2.1" fill="#239ee2"/>
<ellipse cx="249.4" cy="555.6" rx="1.5" ry="2.1" fill="#239ee2"/>
<ellipse cx="261.5" cy="556" rx="1.5" ry="2.1" fill="#239ee2"/>
<ellipse cx="263" cy="552" rx="1.5" ry="2.1" fill="#239ee2"/>
<text x="213.6" y="352.6" font-size="8.85" fill="#000" font-weight="normal" font-style="normal" text-anchor="start" textLength="91" lengthAdjust="spacingAndGlyphs" stroke="#000" stroke-width="0.25" >Relative luciferase activity</text>
<text x="189.4" y="367.6" font-size="8.85" fill="#000" font-weight="normal" font-style="normal" text-anchor="middle" textLength="4.39" lengthAdjust="spacingAndGlyphs" stroke="#000" stroke-width="0.25" >0</text>
<line x1="189.4" y1="370.6" x2="189.4" y2="373.4" stroke="#222" stroke-width="0.8"/>
<text x="221.4" y="367.6" font-size="8.85" fill="#000" font-weight="normal" font-style="normal" text-anchor="middle" textLength="10.98" lengthAdjust="spacingAndGlyphs" stroke="#000" stroke-width="0.25" >0.5</text>
<line x1="221.4" y1="370.6" x2="221.4" y2="373.4" stroke="#222" stroke-width="0.8"/>
<text x="253.4" y="367.6" font-size="8.85" fill="#000" font-weight="normal" font-style="normal" text-anchor="middle" textLength="10.98" lengthAdjust="spacingAndGlyphs" stroke="#000" stroke-width="0.25" >1.0</text>
<line x1="253.4" y1="370.6" x2="253.4" y2="373.4" stroke="#222" stroke-width="0.8"/>
<text x="285.4" y="367.6" font-size="8.85" fill="#000" font-weight="normal" font-style="normal" text-anchor="middle" textLength="10.98" lengthAdjust="spacingAndGlyphs" stroke="#000" stroke-width="0.25" >1.5</text>
<line x1="285.4" y1="370.6" x2="285.4" y2="373.4" stroke="#222" stroke-width="0.8"/>
<text x="317.4" y="367.6" font-size="8.85" fill="#000" font-weight="normal" font-style="normal" text-anchor="middle" textLength="10.98" lengthAdjust="spacingAndGlyphs" stroke="#000" stroke-width="0.25" >2.0</text>
<line x1="317.4" y1="370.6" x2="317.4" y2="373.4" stroke="#222" stroke-width="0.8"/>
<line x1="189.4" y1="373.4" x2="335.5" y2="373.4" stroke="#222" stroke-width="1"/>
<line x1="189.6" y1="373" x2="189.6" y2="566.4" stroke="#222" stroke-width="1.2"/>
<path d="M336 416.6H341.5V465.4H336" fill="none" stroke="#5e6f96" stroke-width="1.1"/>
<path d="M347.4 417.5H351.5V515.5H347.4" fill="none" stroke="#5e6f96" stroke-width="1.1"/>
<rect x="344.8" y="436.8" width="1.6" height="1.5" fill="#222"/>
<rect x="344.8" y="439" width="1.6" height="1.5" fill="#222"/>
<rect x="344.8" y="441.2" width="1.6" height="1.5" fill="#222"/>
<rect x="356.6" y="461" width="1.6" height="1.5" fill="#222"/>
<rect x="356.6" y="463.2" width="1.6" height="1.5" fill="#222"/>
<rect x="356.6" y="465.4" width="1.6" height="1.5" fill="#222"/>
<text x="1.8" y="605.6" font-size="15.5" fill="#000" font-weight="normal" font-style="normal" text-anchor="start" >D</text>
<line x1="76" y1="663.3" x2="86.4" y2="663.3" stroke="#111" stroke-width="1.7"/>
<rect x="20.35" y="655.15" width="54.9" height="13.7" fill="#fff" stroke="#2b3f6e" stroke-width="1.5"/>
<rect x="87.15" y="655.15" width="23.7" height="13.7" fill="#fff" stroke="#2b3f6e" stroke-width="1.5"/>
<text x="24.1" y="666" font-size="8.79" fill="#000" font-weight="normal" font-style="normal" text-anchor="start" textLength="43.8" lengthAdjust="spacingAndGlyphs" stroke="#000" stroke-width="0.25" >MAP3K8 pro</text>
<text x="92.6" y="666" font-size="8.96" fill="#000" font-weight="normal" font-style="normal" text-anchor="start" textLength="12.9" lengthAdjust="spacingAndGlyphs" stroke="#000" stroke-width="0.25" >Luc</text>
<line x1="79" y1="696.3" x2="89.4" y2="696.3" stroke="#111" stroke-width="1.7"/>
<rect x="23.15" y="688.15" width="55.1" height="13.7" fill="#fff" stroke="#2b3f6e" stroke-width="1.5"/>
<rect x="90.15" y="688.15" width="24.1" height="13.7" fill="#fff" stroke="#2b3f6e" stroke-width="1.5"/>
<text x="26.9" y="699" font-size="8.79" fill="#000" font-weight="normal" font-style="normal" text-anchor="start" textLength="43.8" lengthAdjust="spacingAndGlyphs" stroke="#000" stroke-width="0.25" >MAP3K8 pro</text>
<text x="95.8" y="699" font-size="8.96" fill="#000" font-weight="normal" font-style="normal" text-anchor="start" textLength="12.9" lengthAdjust="spacingAndGlyphs" stroke="#000" stroke-width="0.25" >Luc</text>
<line x1="16.6" y1="695.8" x2="22.4" y2="695.8" stroke="#111" stroke-width="1.5"/>
<polygon points="0.4,689.4159999999999 11.100000000000001,689.4159999999999 16.6,695.8 11.100000000000001,702.184 0.4,702.184" fill="#f5b700" stroke="#2b3f6e" stroke-width="1.3"/>
<line x1="78.6" y1="717.6" x2="89.4" y2="717.6" stroke="#111" stroke-width="1.7"/>
<rect x="22.75" y="709.35" width="55.1" height="13.9" fill="#fff" stroke="#2b3f6e" stroke-width="1.5"/>
<rect x="90.15" y="709.35" width="23.5" height="13.9" fill="#fff" stroke="#2b3f6e" stroke-width="1.5"/>
<text x="26.5" y="720.3" font-size="8.79" fill="#000" font-weight="normal" font-style="normal" text-anchor="start" textLength="43.8" lengthAdjust="spacingAndGlyphs" stroke="#000" stroke-width="0.25" >MAP3K8 pro</text>
<text x="95.5" y="720.3" font-size="8.96" fill="#000" font-weight="normal" font-style="normal" text-anchor="start" textLength="12.9" lengthAdjust="spacingAndGlyphs" stroke="#000" stroke-width="0.25" >Luc</text>
<line x1="16.4" y1="716.3" x2="22" y2="716.3" stroke="#111" stroke-width="1.5"/>
<polygon points="6.5,709.832 16.4,709.832 16.4,722.7679999999999 6.5,722.7679999999999 1.0,716.3" fill="#f5b700" stroke="#2b3f6e" stroke-width="1.3"/>
<path d="M121.3 640.4H118.8V684H121.3M118.8 662.4H113.6" fill="none" stroke="#333" stroke-width="1"/>
<text x="153.3" y="646" font-size="8.85" fill="#000" font-weight="normal" font-style="normal" text-anchor="middle" textLength="61.01" lengthAdjust="spacingAndGlyphs" stroke="#000" stroke-width="0.25" >Mock/Mock/Mock</text>
<text x="153" y="663.8" font-size="8.85" fill="#000" font-weight="normal" font-style="normal" text-anchor="middle" textLength="61.9" lengthAdjust="spacingAndGlyphs" stroke="#000" stroke-width="0.25" >Fosl2/c-Jun/Mock</text>
<text x="151.8" y="681.4" font-size="8.85" fill="#000" font-weight="normal" font-style="normal" text-anchor="middle" textLength="55.32" lengthAdjust="spacingAndGlyphs" stroke="#000" stroke-width="0.25" >Fosl2/c-Jun/Tax</text>
<text x="151" y="699.4" font-size="8.85" fill="#000" font-weight="normal" font-style="normal" text-anchor="middle" textLength="55.32" lengthAdjust="spacingAndGlyphs" stroke="#000" stroke-width="0.25" >Fosl2/c-Jun/Tax</text>
<text x="151.8" y="716.8" font-size="8.85" fill="#000" font-weight="normal" font-style="normal" text-anchor="middle" textLength="55.32" lengthAdjust="spacingAndGlyphs" stroke="#000" stroke-width="0.25" >Fosl2/c-Jun/Tax</text>
<rect x="192.6" y="637" width="22.5" height="12" fill="#fff" stroke="#404040" stroke-width="1"/>
<rect x="192.6" y="654.8" width="26.9" height="12" fill="#fff" stroke="#404040" stroke-width="1"/>
<rect x="192.6" y="672.4" width="46.2" height="12" fill="#fff" stroke="#404040" stroke-width="1"/>
<rect x="192.6" y="690.4" width="102.8" height="12" fill="#fff" stroke="#404040" stroke-width="1"/>
<rect x="192.6" y="707.8" width="100.4" height="12" fill="#fff" stroke="#404040" stroke-width="1"/>
<line x1="215.1" y1="642.8" x2="218" y2="642.8" stroke="#222" stroke-width="0.9"/>
<line x1="218" y1="641.5" x2="218" y2="644.1" stroke="#222" stroke-width="0.8"/>
<ellipse cx="212.5" cy="642" rx="1.5" ry="2.1" fill="#000"/>
<ellipse cx="213.5" cy="644.5" rx="1.5" ry="2.1" fill="#000"/>
<ellipse cx="215" cy="643" rx="1.5" ry="2.1" fill="#000"/>
<ellipse cx="216.5" cy="645.5" rx="1.5" ry="2.1" fill="#000"/>
<ellipse cx="218.2" cy="645.8" rx="1.5" ry="2.1" fill="#000"/>
<line x1="219.5" y1="660.6" x2="225" y2="660.6" stroke="#222" stroke-width="0.9"/>
<line x1="225" y1="659.3" x2="225" y2="661.9" stroke="#222" stroke-width="0.8"/>
<ellipse cx="215.1" cy="659.6" rx="1.5" ry="2.1" fill="#239ee2"/>
<ellipse cx="215.3" cy="662" rx="1.5" ry="2.1" fill="#239ee2"/>
<ellipse cx="219.7" cy="661.6" rx="1.5" ry="2.1" fill="#239ee2"/>
<ellipse cx="220.9" cy="663.5" rx="1.5" ry="2.1" fill="#239ee2"/>
<ellipse cx="224.3" cy="660" rx="1.5" ry="2.1" fill="#239ee2"/>
<ellipse cx="225.3" cy="657.3" rx="1.5" ry="2.1" fill="#239ee2"/>
<line x1="238.8" y1="678.2" x2="244.4" y2="678.2" stroke="#222" stroke-width="0.9"/>
<line x1="244.4" y1="676.9" x2="244.4" y2="679.5" stroke="#222" stroke-width="0.8"/>
<ellipse cx="226.6" cy="678.6" rx="1.5" ry="2.1" fill="#9c2cf0"/>
<ellipse cx="237" cy="680.5" rx="1.5" ry="2.1" fill="#9c2cf0"/>
<ellipse cx="238.8" cy="682.5" rx="1.5" ry="2.1" fill="#9c2cf0"/>
<ellipse cx="241.1" cy="675.5" rx="1.5" ry="2.1" fill="#9c2cf0"/>
<ellipse cx="242.5" cy="675.8" rx="1.5" ry="2.1" fill="#9c2cf0"/>
<ellipse cx="244.2" cy="675.5" rx="1.5" ry="2.1" fill="#9c2cf0"/>
<line x1="295.4" y1="696.2" x2="324.6" y2="696.2" stroke="#222" stroke-width="0.9"/>
<line x1="324.6" y1="694.9" x2="324.6" y2="697.5" stroke="#222" stroke-width="0.8"/>
<ellipse cx="252.4" cy="695" rx="1.5" ry="2.1" fill="#ff1010"/>
<ellipse cx="305.4" cy="693.6" rx="1.5" ry="2.1" fill="#ff1010"/>
<ellipse cx="309.4" cy="696.4" rx="1.5" ry="2.1" fill="#ff1010"/>
<ellipse cx="315.4" cy="693" rx="1.5" ry="2.1" fill="#ff1010"/>
<line x1="293" y1="713.6" x2="317.4" y2="713.6" stroke="#222" stroke-width="0.9"/>
<line x1="317.4" y1="712.3" x2="317.4" y2="714.9" stroke="#222" stroke-width="0.8"/>
<ellipse cx="256.6" cy="712.6" rx="1.5" ry="2.1" fill="#ff1010"/>
<ellipse cx="300.6" cy="713.6" rx="1.5" ry="2.1" fill="#ff1010"/>
<ellipse cx="304.6" cy="714" rx="1.5" ry="2.1" fill="#ff1010"/>
<ellipse cx="309.6" cy="712.6" rx="1.5" ry="2.1" fill="#ff1010"/>
<text x="202.4" y="615.4" font-size="8.85" fill="#000" font-weight="normal" font-style="normal" text-anchor="start" textLength="91" lengthAdjust="spacingAndGlyphs" stroke="#000" stroke-width="0.25" >Relative luciferase activity</text>
<text x="192.6" y="629.2" font-size="8.85" fill="#000" font-weight="normal" font-style="normal" text-anchor="middle" textLength="4.39" lengthAdjust="spacingAndGlyphs" stroke="#000" stroke-width="0.25" >0</text>
<line x1="192.6" y1="631" x2="192.6" y2="632.4" stroke="#222" stroke-width="0.7"/>
<text x="216.6" y="629.2" font-size="8.85" fill="#000" font-weight="normal" font-style="normal" text-anchor="middle" textLength="4.39" lengthAdjust="spacingAndGlyphs" stroke="#000" stroke-width="0.25" >1</text>
<line x1="216.6" y1="631" x2="216.6" y2="632.4" stroke="#222" stroke-width="0.7"/>
<text x="240.6" y="629.2" font-size="8.85" fill="#000" font-weight="normal" font-style="normal" text-anchor="middle" textLength="4.39" lengthAdjust="spacingAndGlyphs" stroke="#000" stroke-width="0.25" >2</text>
<line x1="240.6" y1="631" x2="240.6" y2="632.4" stroke="#222" stroke-width="0.7"/>
<text x="264.6" y="629.2" font-size="8.85" fill="#000" font-weight="normal" font-style="normal" text-anchor="middle" textLength="4.39" lengthAdjust="spacingAndGlyphs" stroke="#000" stroke-width="0.25" >3</text>
<line x1="264.6" y1="631" x2="264.6" y2="632.4" stroke="#222" stroke-width="0.7"/>
<text x="288.6" y="629.2" font-size="8.85" fill="#000" font-weight="normal" font-style="normal" text-anchor="middle" textLength="4.39" lengthAdjust="spacingAndGlyphs" stroke="#000" stroke-width="0.25" >4</text>
<line x1="288.6" y1="631" x2="288.6" y2="632.4" stroke="#222" stroke-width="0.7"/>
<text x="312.6" y="629.2" font-size="8.85" fill="#000" font-weight="normal" font-style="normal" text-anchor="middle" textLength="4.39" lengthAdjust="spacingAndGlyphs" stroke="#000" stroke-width="0.25" >5</text>
<line x1="312.6" y1="631" x2="312.6" y2="632.4" stroke="#222" stroke-width="0.7"/>
<line x1="192.6" y1="632.3" x2="331.4" y2="632.3" stroke="#222" stroke-width="1"/>
<line x1="192.6" y1="632.3" x2="192.6" y2="726" stroke="#222" stroke-width="1.2"/>
<path d="M328.2 676.4H332.8V697.4H328.2" fill="none" stroke="#5e6f96" stroke-width="1.1"/>
<path d="M340.4 676.4H344.6V717.6H340.4" fill="none" stroke="#5e6f96" stroke-width="1.1"/>
<rect x="337.2" y="684" width="1.6" height="1.5" fill="#222"/>
<rect x="337.2" y="686.2" width="1.6" height="1.5" fill="#222"/>
<rect x="337.2" y="688.4" width="1.6" height="1.5" fill="#222"/>
<rect x="348.2" y="694.4" width="1.6" height="1.5" fill="#222"/>
<rect x="348.2" y="696.6" width="1.6" height="1.5" fill="#222"/>
<rect x="348.2" y="698.8" width="1.6" height="1.5" fill="#222"/>
<text x="396.3" y="342.2" font-size="16" fill="#000" font-weight="normal" font-style="normal" text-anchor="start" >E</text>
<line x1="421.4" y1="383.6" x2="421.4" y2="630.4" stroke="#111" stroke-width="1.4"/>
<text transform="translate(408.5,541) rotate(-90)" font-size="13.5" fill="#000" font-weight="bold" textLength="63.4" lengthAdjust="spacingAndGlyphs">ATAC-seq</text>
<text x="434.1" y="392.8" font-size="10.5" font-weight="bold" fill="#179bc4" stroke="#179bc4" stroke-width="0.3" textLength="58.4" lengthAdjust="spacingAndGlyphs">Normal CD4</text>
<text x="492.6" y="389.6" font-size="7" font-weight="bold" fill="#179bc4">+</text>
<text x="445.6" y="457" font-size="10.4" fill="#ff0000" font-weight="bold" font-style="normal" text-anchor="start" textLength="36.4" lengthAdjust="spacingAndGlyphs" stroke="#ff0000" stroke-width="0.3" >HAM_D</text>
<text x="444.4" y="528.6" font-size="10.5" fill="#ef8845" font-weight="bold" font-style="normal" text-anchor="start" textLength="38.6" lengthAdjust="spacingAndGlyphs" stroke="#ef8845" stroke-width="0.3" >Tax-cell</text>
<text x="438" y="592.2" font-size="10.4" fill="#7434a6" font-weight="bold" font-style="normal" text-anchor="start" textLength="53" lengthAdjust="spacingAndGlyphs" stroke="#7434a6" stroke-width="0.3" >Stimulated</text>
<text x="452" y="604.6" font-size="10.6" font-weight="bold" fill="#7434a6" stroke="#7434a6" stroke-width="0.3" textLength="21" lengthAdjust="spacingAndGlyphs">CD4</text>
<text x="473.4" y="601.2" font-size="7" font-weight="bold" fill="#7434a6">+</text>
<text x="433" y="616.4" font-size="10.4" fill="#7434a6" font-weight="bold" font-style="normal" text-anchor="start" textLength="64.6" lengthAdjust="spacingAndGlyphs" stroke="#7434a6" stroke-width="0.3" >GSM5554060</text>
<text x="427.4" y="616.2" font-size="10.5" fill="#7434a6">(</text>
<text x="498.6" y="616.2" font-size="10.5" fill="#7434a6">)</text>
<path d="M506 413.1L506 411.18L507 411.18L507 410.97L508 410.97L508 410.93L509 410.93L509 410.53L510 410.53L510 410.78L511 410.78L511 411.76L512 411.76L512 411.82L513 411.82L513 411.68L514 411.68L514 411.54L515 411.54L515 411.94L516 411.94L516 411.71L517 411.71L517 411.81L518 411.81L518 410.79L519 410.79L519 410.41L520 410.41L520 412.61L521 412.61L521 409.1L522 409.1L522 409.1L523 409.1L523 405.88L524 405.88L524 408.1L525 408.1L525 405.1L526 405.1L526 405.1L527 405.1L527 401.1L528 401.1L528 401.1L529 401.1L529 397.4L530 397.4L530 397.4L531 397.4L531 411.1L532 411.1L532 411.1L533 411.1L533 403.1L534 403.1L534 403.1L535 403.1L535 403.1L536 403.1L536 409.1L537 409.1L537 409.1L538 409.1L538 407.1L539 407.1L539 400.3L540 400.3L540 400.3L541 400.3L541 407.1L542 407.1L542 407.1L543 407.1L543 390.3L544 390.3L544 362.1L545 362.1L545 362.1L546 362.1L546 362.1L547 362.1L547 395.1L548 395.1L548 399.6L549 399.6L549 399.6L550 399.6L550 408.1L551 408.1L551 408.1L552 408.1L552 404.1L553 404.1L553 404.1L554 404.1L554 412.06L555 412.06L555 412.31L556 412.31L556 412.32L557 412.32L557 408.86L558 408.86L558 411.02L559 411.02L559 411.06L560 411.06L560 411.06L561 411.06L561 410.17L562 410.17L562 409.18L563 409.18L563 411.6L564 411.6L564 411.6L565 411.6L565 412.52L566 412.52L566 412.47L567 412.47L567 412.64L568 412.64L568 412.46L569 412.46L569 412.52L570 412.52L570 412.5L571 412.5L571 412.1L572 412.1L572 411.1L573 411.1L573 411.1L574 411.1L574 410.05L575 410.05L575 412.29L576 412.29L576 410.83L577 410.83L577 410.1L578 410.1L578 412.1L579 412.1L579 411.86L580 411.86L580 411.98L581 411.98L581 411.7L582 411.7L582 409.1L583 409.1L583 410.66L584 410.66L584 410.75L585 410.75L585 411.02L586 411.02L586 411.24L587 411.24L587 411.09L588 411.09L588 410.99L589 410.99L589 411.48L590 411.48L590 411.24L591 411.24L591 411.87L592 411.87L592 411.58L593 411.58L593 411.58L594 411.58L594 411.41L595 411.41L595 411.29L596 411.29L596 411.37L597 411.37L597 409.95L598 409.95L598 411.38L599 411.38L599 411.45L600 411.45L600 411.31L601 411.31L601 411.43L602 411.43L602 409.1L603 409.1L603 411.25L604 411.25L604 411.6L605 411.6L605 411.07L606 411.07L606 410.28L607 410.28L607 409.96L608 409.96L608 409.67L609 409.67L609 409.48L610 409.48L610 409.44L611 409.44L611 411.6L612 411.6L612 411.6L613 411.6L613 409.21L614 409.21L614 410.39L615 410.39L615 410.39L616 410.39L616 410.28L617 410.28L617 410.62L618 410.62L618 411.6L619 411.6L619 409.97L620 409.97L620 410.49L621 410.49L621 409.06L622 409.06L622 410.79L623 410.79L623 410.02L624 410.02L624 412.15L625 412.15L625 412.27L626 412.27L626 412.41L627 412.41L627 412.07L628 412.07L628 411.1L629 411.1L629 411.1L630 411.1L630 408.44L631 408.44L631 409.44L632 409.44L632 409.18L633 409.18L633 408.57L634 408.57L634 408.49L635 408.49L635 405.1L636 405.1L636 400.1L637 400.1L637 391.6L638 391.6L638 391.6L639 391.6L639 397.1L640 397.1L640 404.1L641 404.1L641 409.1L642 409.1L642 412.65L643 412.65L643 412.48L644 412.48L644 412.63L645 412.63L645 412.65L646 412.65L646 411.62L647 411.62L647 412.03L648 412.03L648 409.48L649 409.48L649 410.55L650 410.55L650 409.99L651 409.99L651 410.44L652 410.44L652 410.29L653 410.29L653 409.51L654 409.51L654 410.17L655 410.17L655 410.21L656 410.21L656 410.1L657 410.1L657 410.41L658 410.41L658 410.81L659 410.81L659 410.94L660 410.94L660 410.69L661 410.69L661 410.82L662 410.82L662 410.92L663 410.92L663 410L664 410L664 411.11L665 411.11L665 410.08L666 410.08L666 411.56L667 411.56L667 411.7L668 411.7L668 411.46L669 411.46L669 410.97L670 410.97L670 411.44L671 411.44L671 410.87L672 410.87L672 410.77L673 410.77L673 412.1L674 412.1L674 412.1L675 412.1L675 410.49L676 410.49L676 410.81L677 410.81L677 410.06L678 410.06L678 410.69L679 410.69L679 411.6L680 411.6L680 411.6L681 411.6L681 412.33L682 412.33L682 412.27L683 412.27L683 410.63L684 410.63L684 412.3L685 412.3L685 413.1Z" fill="#00ffff"/>
<rect x="506" y="412.1" width="179" height="1.2" fill="#00ffff"/>
<path d="M506 484.5L506 483L507 483L507 483.07L508 483.07L508 483.29L509 483.29L509 483.13L510 483.13L510 483.41L511 483.41L511 483.5L512 483.5L512 483.5L513 483.5L513 480.15L514 480.15L514 482.49L515 482.49L515 482.09L516 482.09L516 482.27L517 482.27L517 481.93L518 481.93L518 481.39L519 481.39L519 483.43L520 483.43L520 483.19L521 483.19L521 483.01L522 483.01L522 483.17L523 483.17L523 480.2L524 480.2L524 477.19L525 477.19L525 478.17L526 478.17L526 477.5L527 477.5L527 472.5L528 472.5L528 464.5L529 464.5L529 464.5L530 464.5L530 479.5L531 479.5L531 479.5L532 479.5L532 481.5L533 481.5L533 473.1L534 473.1L534 473.1L535 473.1L535 482.52L536 482.52L536 481.41L537 481.41L537 481.73L538 481.73L538 482.5L539 482.5L539 475.5L540 475.5L540 475.5L541 475.5L541 475.5L542 475.5L542 455L543 455L543 422.1L544 422.1L544 422.1L545 422.1L545 422.1L546 422.1L546 466.5L547 466.5L547 473.5L548 473.5L548 473.5L549 473.5L549 478.5L550 478.5L550 478.5L551 478.5L551 478.5L552 478.5L552 481.58L553 481.58L553 481.07L554 481.07L554 479.74L555 479.74L555 481.46L556 481.46L556 480.89L557 480.89L557 477.5L558 477.5L558 477.5L559 477.5L559 481.09L560 481.09L560 480.4L561 480.4L561 480.45L562 480.45L562 482.87L563 482.87L563 482.7L564 482.7L564 482.61L565 482.61L565 481.69L566 481.69L566 479.77L567 479.77L567 480.39L568 480.39L568 480.17L569 480.17L569 479.25L570 479.25L570 478.87L571 478.87L571 478.1L572 478.1L572 477.5L573 477.5L573 481.5L574 481.5L574 482.68L575 482.68L575 482.94L576 482.94L576 482.97L577 482.97L577 483.01L578 483.01L578 481.47L579 481.47L579 482.46L580 482.46L580 482.96L581 482.96L581 481.53L582 481.53L582 481.01L583 481.01L583 481.39L584 481.39L584 480.77L585 480.77L585 480.98L586 480.98L586 481.98L587 481.98L587 481.56L588 481.56L588 481.64L589 481.64L589 481.73L590 481.73L590 481.09L591 481.09L591 481.8L592 481.8L592 454.5L593 454.5L593 432.5L594 432.5L594 432.5L595 432.5L595 432.5L596 432.5L596 460.5L597 460.5L597 478.5L598 478.5L598 479.23L599 479.23L599 481L600 481L600 480.88L601 480.88L601 480.5L602 480.5L602 481.17L603 481.17L603 479.35L604 479.35L604 482.5L605 482.5L605 480.22L606 480.22L606 480.81L607 480.81L607 478.36L608 478.36L608 482.26L609 482.26L609 482.18L610 482.18L610 482.38L611 482.38L611 482.49L612 482.49L612 480.13L613 480.13L613 481.57L614 481.57L614 482.41L615 482.41L615 481.97L616 481.97L616 481.59L617 481.59L617 482.5L618 482.5L618 478.5L619 478.5L619 477.88L620 477.88L620 477.25L621 477.25L621 476.62L622 476.62L622 476L623 476L623 481.52L624 481.52L624 482.13L625 482.13L625 481.75L626 481.75L626 479.75L627 479.75L627 480.94L628 480.94L628 479.5L629 479.5L629 479.5L630 479.5L630 475.5L631 475.5L631 474.5L632 474.5L632 473.5L633 473.5L633 478.7L634 478.7L634 479.5L635 479.5L635 472L636 472L636 472L637 472L637 472L638 472L638 480.97L639 480.97L639 481.17L640 481.17L640 478.09L641 478.09L641 483.16L642 483.16L642 482.65L643 482.65L643 482.55L644 482.55L644 482.66L645 482.66L645 481.61L646 481.61L646 482.97L647 482.97L647 483.5L648 483.5L648 483.5L649 483.5L649 482.21L650 482.21L650 482.11L651 482.11L651 482.01L652 482.01L652 481.59L653 481.59L653 481.14L654 481.14L654 481.92L655 481.92L655 481.56L656 481.56L656 481.33L657 481.33L657 479.99L658 479.99L658 481.21L659 481.21L659 479.41L660 479.41L660 480.08L661 480.08L661 482.96L662 482.96L662 483.01L663 483.01L663 482.65L664 482.65L664 482.45L665 482.45L665 480.18L666 480.18L666 480.05L667 480.05L667 479.7L668 479.7L668 482.7L669 482.7L669 482.47L670 482.47L670 481.96L671 481.96L671 480.71L672 480.71L672 482.05L673 482.05L673 482.61L674 482.61L674 482.01L675 482.01L675 482.09L676 482.09L676 482.65L677 482.65L677 482.35L678 482.35L678 482.19L679 482.19L679 482.3L680 482.3L680 482.27L681 482.27L681 480.66L682 480.66L682 482.32L683 482.32L683 482.52L684 482.52L684 482.08L685 482.08L685 484.5Z" fill="#ff0000"/>
<rect x="506" y="483.5" width="179" height="1.2" fill="#ff0000"/>
<path d="M506 555.8L506 554.3L507 554.3L507 554.3L508 554.3L508 553.93L509 553.93L509 553.19L510 553.19L510 553.54L511 553.54L511 551.95L512 551.95L512 554.83L513 554.83L513 555.04L514 555.04L514 555.01L515 555.01L515 555.09L516 555.09L516 549.8L517 549.8L517 549.8L518 549.8L518 549.8L519 549.8L519 553.83L520 553.83L520 554.43L521 554.43L521 553.91L522 553.91L522 554.18L523 554.18L523 553.96L524 553.96L524 548.8L525 548.8L525 542.4L526 542.4L526 542.4L527 542.4L527 537.8L528 537.8L528 537.8L529 537.8L529 520.8L530 520.8L530 520.8L531 520.8L531 539.8L532 539.8L532 540.47L533 540.47L533 541.13L534 541.13L534 541.8L535 541.8L535 543.8L536 543.8L536 543.8L537 543.8L537 543.8L538 543.8L538 542.8L539 542.8L539 542.47L540 542.47L540 542.13L541 542.13L541 541.8L542 541.8L542 537.8L543 537.8L543 508.1L544 508.1L544 493.4L545 493.4L545 493.4L546 493.4L546 510.8L547 510.8L547 510.8L548 510.8L548 530.8L549 530.8L549 546.8L550 546.8L550 546.8L551 546.8L551 546.8L552 546.8L552 552.35L553 552.35L553 552.73L554 552.73L554 550.11L555 550.11L555 551.7L556 551.7L556 552.8L557 552.8L557 548.8L558 548.8L558 548.8L559 548.8L559 548.8L560 548.8L560 548.8L561 548.8L561 548.8L562 548.8L562 548.8L563 548.8L563 548.8L564 548.8L564 554.01L565 554.01L565 553.2L566 553.2L566 553.26L567 553.26L567 553.99L568 553.99L568 554.16L569 554.16L569 553.56L570 553.56L570 554.04L571 554.04L571 553.44L572 553.44L572 553.71L573 553.71L573 553.47L574 553.47L574 553.61L575 553.61L575 551.17L576 551.17L576 553.35L577 553.35L577 553.57L578 553.57L578 552.92L579 552.92L579 555.02L580 555.02L580 555.1L581 555.1L581 550.84L582 550.84L582 551.83L583 551.83L583 552.87L584 552.87L584 554.3L585 554.3L585 554.3L586 554.3L586 553.75L587 553.75L587 553.86L588 553.86L588 553.56L589 553.56L589 553.64L590 553.64L590 553.32L591 553.32L591 553.74L592 553.74L592 545.8L593 545.8L593 523.8L594 523.8L594 523.8L595 523.8L595 523.8L596 523.8L596 545.8L597 545.8L597 550.8L598 550.8L598 554.61L599 554.61L599 554.43L600 554.43L600 552.89L601 552.89L601 554.27L602 554.27L602 554.64L603 554.64L603 554.29L604 554.29L604 554.24L605 554.24L605 550.59L606 550.59L606 552.29L607 552.29L607 551.79L608 551.79L608 554.84L609 554.84L609 554.82L610 554.82L610 555.13L611 555.13L611 554.99L612 554.99L612 554.86L613 554.86L613 552.46L614 552.46L614 552.78L615 552.78L615 553.23L616 553.23L616 552.96L617 552.96L617 553.44L618 553.44L618 553.08L619 553.08L619 552.93L620 552.93L620 554.33L621 554.33L621 554.47L622 554.47L622 554.58L623 554.58L623 554.68L624 554.68L624 552.31L625 552.31L625 551.67L626 551.67L626 552.07L627 552.07L627 554.3L628 554.3L628 552.92L629 552.92L629 551.89L630 551.89L630 552.28L631 552.28L631 551.65L632 551.65L632 552.34L633 552.34L633 545.8L634 545.8L634 545.8L635 545.8L635 545.8L636 545.8L636 540.3L637 540.3L637 540.3L638 540.3L638 540.3L639 540.3L639 540.3L640 540.3L640 550.8L641 550.8L641 552.43L642 552.43L642 548.8L643 548.8L643 548.8L644 548.8L644 548.8L645 548.8L645 554.9L646 554.9L646 554.98L647 554.98L647 554.91L648 554.91L648 554.78L649 554.78L649 554.76L650 554.76L650 554.89L651 554.89L651 553.09L652 553.09L652 555.12L653 555.12L653 554.81L654 554.81L654 554.99L655 554.99L655 555L656 555L656 555.13L657 555.13L657 555.14L658 555.14L658 554.99L659 554.99L659 554.76L660 554.76L660 552.46L661 552.46L661 554.87L662 554.87L662 550.75L663 550.75L663 551.62L664 551.62L664 551.85L665 551.85L665 550.9L666 550.9L666 552.47L667 552.47L667 553.59L668 553.59L668 553.66L669 553.66L669 553.63L670 553.63L670 554.05L671 554.05L671 554.78L672 554.78L672 554.54L673 554.54L673 554.74L674 554.74L674 554.44L675 554.44L675 554.64L676 554.64L676 552.17L677 552.17L677 551.52L678 551.52L678 551.78L679 551.78L679 551.92L680 551.92L680 552.52L681 552.52L681 554.22L682 554.22L682 553.72L683 553.72L683 554.29L684 554.29L684 554.27L685 554.27L685 555.8Z" fill="#ffc000"/>
<rect x="506" y="554.8" width="179" height="1.2" fill="#ffc000"/>
<path d="M506 627.7L506 626.63L507 626.63L507 626.47L508 626.47L508 626.76L509 626.76L509 626.59L510 626.59L510 626.62L511 626.62L511 626.47L512 626.47L512 626.71L513 626.71L513 626.76L514 626.76L514 626.52L515 626.52L515 626.46L516 626.46L516 626.65L517 626.65L517 626.72L518 626.72L518 626.82L519 626.82L519 626.67L520 626.67L520 626.47L521 626.47L521 624.7L522 624.7L522 624.7L523 624.7L523 619.7L524 619.7L524 610.2L525 610.2L525 606.7L526 606.7L526 600.7L527 600.7L527 587.7L528 587.7L528 574.7L529 574.7L529 574.7L530 574.7L530 585.4L531 585.4L531 585.4L532 585.4L532 585.4L533 585.4L533 617L534 617L534 619.7L535 619.7L535 619.7L536 619.7L536 619.7L537 619.7L537 626.21L538 626.21L538 626.16L539 626.16L539 626.08L540 626.08L540 626.29L541 626.29L541 622.7L542 622.7L542 622.7L543 622.7L543 615.7L544 615.7L544 594.7L545 594.7L545 594.7L546 594.7L546 594.7L547 594.7L547 626.22L548 626.22L548 625.94L549 625.94L549 625.62L550 625.62L550 625.69L551 625.69L551 626.09L552 626.09L552 625.75L553 625.75L553 626.91L554 626.91L554 626.98L555 626.98L555 627.04L556 627.04L556 627.09L557 627.09L557 626.94L558 626.94L558 626.95L559 626.95L559 627.08L560 627.08L560 627.1L561 627.1L561 627.11L562 627.11L562 626.91L563 626.91L563 626.89L564 626.89L564 627L565 627L565 626.97L566 626.97L566 626.94L567 626.94L567 627.1L568 627.1L568 626.99L569 626.99L569 627.01L570 627.01L570 626.9L571 626.9L571 627.09L572 627.09L572 626.9L573 626.9L573 627.1L574 627.1L574 626.97L575 626.97L575 626.89L576 626.89L576 627.12L577 627.12L577 627L578 627L578 627.14L579 627.14L579 627L580 627L580 627L581 627L581 626.87L582 626.87L582 627L583 627L583 626.89L584 626.89L584 626.94L585 626.94L585 626.9L586 626.9L586 627.04L587 627.04L587 627.11L588 627.11L588 626.96L589 626.96L589 627.11L590 627.11L590 626.96L591 626.96L591 627.09L592 627.09L592 626.97L593 626.97L593 618.7L594 618.7L594 618.7L595 618.7L595 618.7L596 618.7L596 618.7L597 618.7L597 626.73L598 626.73L598 626.66L599 626.66L599 626.93L600 626.93L600 626.94L601 626.94L601 626.85L602 626.85L602 626.66L603 626.66L603 626.91L604 626.91L604 626.83L605 626.83L605 626.45L606 626.45L606 626.62L607 626.62L607 626.37L608 626.37L608 626.49L609 626.49L609 626.4L610 626.4L610 626.74L611 626.74L611 626.77L612 626.77L612 626.91L613 626.91L613 626.77L614 626.77L614 626.81L615 626.81L615 626.73L616 626.73L616 627L617 627L617 626.1L618 626.1L618 625.83L619 625.83L619 625.91L620 625.91L620 625.95L621 625.95L621 626.81L622 626.81L622 626.78L623 626.78L623 626.74L624 626.74L624 626.71L625 626.71L625 626.24L626 626.24L626 626.17L627 626.17L627 626.35L628 626.35L628 626.56L629 626.56L629 626.87L630 626.87L630 626.7L631 626.7L631 626.73L632 626.73L632 625.13L633 625.13L633 625.61L634 625.61L634 625.58L635 625.58L635 625.1L636 625.1L636 625.33L637 625.33L637 625.56L638 625.56L638 624.79L639 624.79L639 625.51L640 625.51L640 626.7L641 626.7L641 626.7L642 626.7L642 626.16L643 626.16L643 626.32L644 626.32L644 626.15L645 626.15L645 626.24L646 626.24L646 626.54L647 626.54L647 626.92L648 626.92L648 626.7L649 626.7L649 626.85L650 626.85L650 626.82L651 626.82L651 626.74L652 626.74L652 626.79L653 626.79L653 626.75L654 626.75L654 626.82L655 626.82L655 626.9L656 626.9L656 626.75L657 626.75L657 626.96L658 626.96L658 626.75L659 626.75L659 626.72L660 626.72L660 626.95L661 626.95L661 627L662 627L662 626.68L663 626.68L663 626.93L664 626.93L664 626.81L665 626.81L665 626.5L666 626.5L666 626.58L667 626.58L667 626.51L668 626.51L668 626.61L669 626.61L669 626.21L670 626.21L670 626.25L671 626.25L671 624.7L672 624.7L672 626.73L673 626.73L673 626.95L674 626.95L674 626.89L675 626.89L675 626.97L676 626.97L676 626.7L677 626.7L677 626.66L678 626.66L678 626.15L679 626.15L679 626.21L680 626.21L680 626.33L681 626.33L681 626.39L682 626.39L682 626.59L683 626.59L683 626.63L684 626.63L684 626.32L685 626.32L685 627.7Z" fill="#1a12f0"/>
<rect x="506" y="626.7" width="179" height="1.2" fill="#1a12f0"/>
<rect x="524" y="621.2" width="1" height="5.5" fill="#6e50f2"/>
<rect x="525" y="614.1" width="1" height="12.6" fill="#6e50f2"/>
<rect x="526" y="610.5" width="1" height="16.2" fill="#6e50f2"/>
<rect x="527" y="602.7" width="1" height="24" fill="#6e50f2"/>
<rect x="528" y="594.9" width="1" height="31.8" fill="#6e50f2"/>
<rect x="529" y="594.9" width="1" height="31.8" fill="#6e50f2"/>
<rect x="530" y="601.32" width="1" height="25.38" fill="#6e50f2"/>
<rect x="531" y="601.32" width="1" height="25.38" fill="#6e50f2"/>
<rect x="532" y="618.5" width="1" height="8.2" fill="#6e50f2"/>
<rect x="533" y="621.2" width="1" height="5.5" fill="#6e50f2"/>
<rect x="534" y="621.9" width="1" height="4.8" fill="#6e50f2"/>
<rect x="535" y="621.9" width="1" height="4.8" fill="#6e50f2"/>
<rect x="542" y="624.2" width="1" height="2.5" fill="#6e50f2"/>
<rect x="543" y="624.2" width="1" height="2.5" fill="#6e50f2"/>
<rect x="544" y="617.2" width="1" height="9.5" fill="#6e50f2"/>
<rect x="545" y="606.9" width="1" height="19.8" fill="#6e50f2"/>
<rect x="586.4" y="340" width="18.4" height="287.6" fill="rgba(214,214,214,0.36)"/>
<rect x="505" y="633.2" width="179" height="1.8" fill="#8a8a8a"/>
<rect x="505" y="637.7" width="179" height="1.8" fill="#8a8a8a"/>
<line x1="530" y1="650.3" x2="668" y2="650.3" stroke="#1515f0" stroke-width="1.4"/>
<rect x="529.3" y="646.2" width="2" height="7.8" fill="#1515f0"/>
<rect x="539.6" y="646.6" width="8.4" height="7" fill="#1515f0"/>
<rect x="553.9" y="644.2" width="2.1" height="12" fill="#1515f0"/>
<rect x="554" y="646.6" width="18.6" height="7" fill="#1515f0"/>
<rect x="597.2" y="644.2" width="2.8" height="12" fill="#1515f0"/>
<rect x="609.55" y="644.2" width="2.1" height="12" fill="#1515f0"/>
<rect x="616.95" y="644.2" width="2.1" height="12" fill="#1515f0"/>
<rect x="648.35" y="644.2" width="2.1" height="12" fill="#1515f0"/>
<rect x="654.95" y="644.2" width="2.1" height="12" fill="#1515f0"/>
<rect x="661.95" y="644.2" width="2.1" height="12" fill="#1515f0"/>
<rect x="663" y="646.6" width="5" height="7" fill="#1515f0"/>
<path d="M584.5 647.8L586.6 650L584.5 652.2" fill="none" stroke="#1515f0" stroke-width="0.9"/>
<path d="M628.5 647.8L630.6 650L628.5 652.2" fill="none" stroke="#1515f0" stroke-width="0.9"/>
<text x="577" y="676" font-size="10.5" fill="#000" font-weight="bold" font-style="italic" text-anchor="start" textLength="42.4" lengthAdjust="spacingAndGlyphs" stroke="#000" stroke-width="0.3" >MAP3K8</text>
</svg>
</body></html>
